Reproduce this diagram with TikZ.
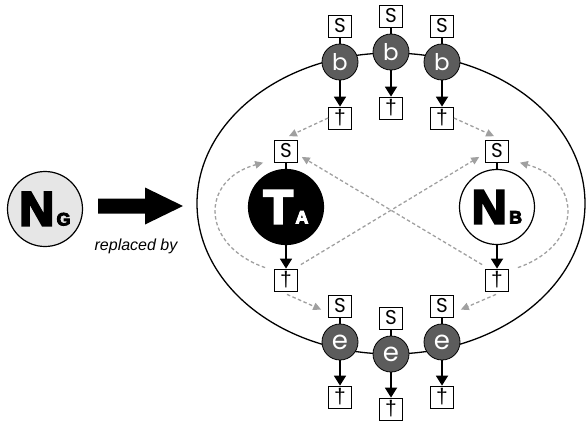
\documentclass[tikz,border=0pt]{standalone}
\usepackage{fontspec}
\setmainfont{Liberation Sans}
\newfontfamily\geofont{Poppins}
\newfontfamily\heavyfont[FakeBold=5]{Liberation Sans}
\usetikzlibrary{arrows.meta}

\definecolor{portfill}{HTML}{5C5C5C}
\definecolor{hintgray}{HTML}{A0A0A0}
\definecolor{groundfill}{HTML}{E6E6E6}

\newcommand{\bigsym}[2]{{\heavyfont\bfseries\fontsize{48}{48}\selectfont #1\kern2.5pt\fontsize{18}{18}\selectfont #2}}

\tikzset{
  port/.style={draw, line width=0.8pt, fill=white, minimum width=23pt,
    minimum height=22pt, inner sep=0pt},
  sport/.style={port, font=\geofont\fontsize{20}{20}\selectfont},
  tport/.style={port, font=\fontsize{21}{21}\selectfont},
  joint/.style={circle, draw, line width=0.8pt, fill=portfill, minimum size=36pt,
    inner sep=0pt, text=white},
  bigcirc/.style={circle, draw, line width=1.2pt, minimum size=75pt, inner sep=0pt},
  flow/.style={-{Triangle[length=10pt,width=12pt]}, line width=1.8pt},
  link/.style={line width=1.6pt},
  hint/.style={draw=hintgray, line width=1.3pt, dash pattern=on 3.5pt off 2.5pt,
    -{Triangle[length=8pt,width=7.5pt]}, shorten >=1pt}
}

\begin{document}
\begin{tikzpicture}[x=1pt,y=-1pt]
\useasboundingbox (0,0) rectangle (586,423);

% generic node and the replacement arrow
\node[bigcirc, fill=groundfill] (G) at (45,209) {\bigsym{N}{G}};
\fill (98,198.5) -- (145,198.5) -- (145,187.5) -- (183,206) -- (145,224.5)
  -- (145,213.5) -- (98,213.5) -- cycle;
\node[anchor=base, font=\itshape\fontsize{16}{16}\selectfont] (rep) at (136,250) {replaced by};

% enclosing boundary
\draw[line width=1.3pt] (391,203.5) ellipse [x radius=194, y radius=150.5];

% begin joints on the upper boundary
\foreach \n/\x/\y in {1/340/62, 2/391/52, 3/442/62} {
  \node[joint, font=\geofont\fontsize{23}{23}\selectfont] (b\n) at (\x,\y) {b};
  \node[sport] (sb\n) at (\x,\y-36) {S};
  \node[tport] (tb\n) at (\x,\y+56) {†};
  \draw[link] (sb\n) -- (b\n);
  \draw[flow] (b\n) -- (tb\n);
}

% end joints on the lower boundary
\foreach \n/\x/\y in {1/340/342, 2/391/354, 3/442/342} {
  \node[joint, font=\geofont\fontsize{26}{26}\selectfont] (e\n) at (\x,\y) {e};
  \node[sport] (se\n) at (\x,\y-36) {S};
  \node[tport] (te\n) at (\x,\y+55) {†};
  \draw[link] (se\n) -- (e\n);
  \draw[flow] (e\n) -- (te\n);
}

% the two inner components
\node[bigcirc, fill=black, text=white] (A) at (286,207) {\bigsym{T}{A}};
\node[sport] (sA) at (286,151) {S};
\node[tport] (tA) at (286,280) {†};
\draw[link] (sA) -- (A);
\draw[flow] (A) -- (tA);

\node[bigcirc, fill=white] (B) at (497,207) {\bigsym{N}{B}};
\node[sport] (sB) at (497,151) {S};
\node[tport] (tB) at (497,280) {†};
\draw[link] (sB) -- (B);
\draw[flow] (B) -- (tB);

% possible successions
\draw[hint] (tb1.west) -- ([shift={(2,-3)}]sA.north);
\draw[hint] (tb3.east) -- ([shift={(-2,-3)}]sB.north);
\draw[hint] ([shift={(1,3)}]tA.south) -- ([shift={(-6,4)}]se1.west);
\draw[hint] ([shift={(-1,3)}]tB.south) -- ([shift={(6,4)}]se3.east);
\draw[hint] ([shift={(-9,-1)}]tA.north west) .. controls (200,245) and (200,180)
  .. ([shift={(-10,0)}]sA.south west);
\draw[hint] ([shift={(9,-1)}]tB.north east) .. controls (583,245) and (583,180)
  .. ([shift={(10,0)}]sB.south east);
\draw[hint] ([shift={(3,-4)}]tA.north east) -- ([shift={(-5,-6)}]sB.south west);
\draw[hint] ([shift={(-3,-4)}]tB.north west) -- ([shift={(3,-6)}]sA.south east);
\end{tikzpicture}
\end{document}
